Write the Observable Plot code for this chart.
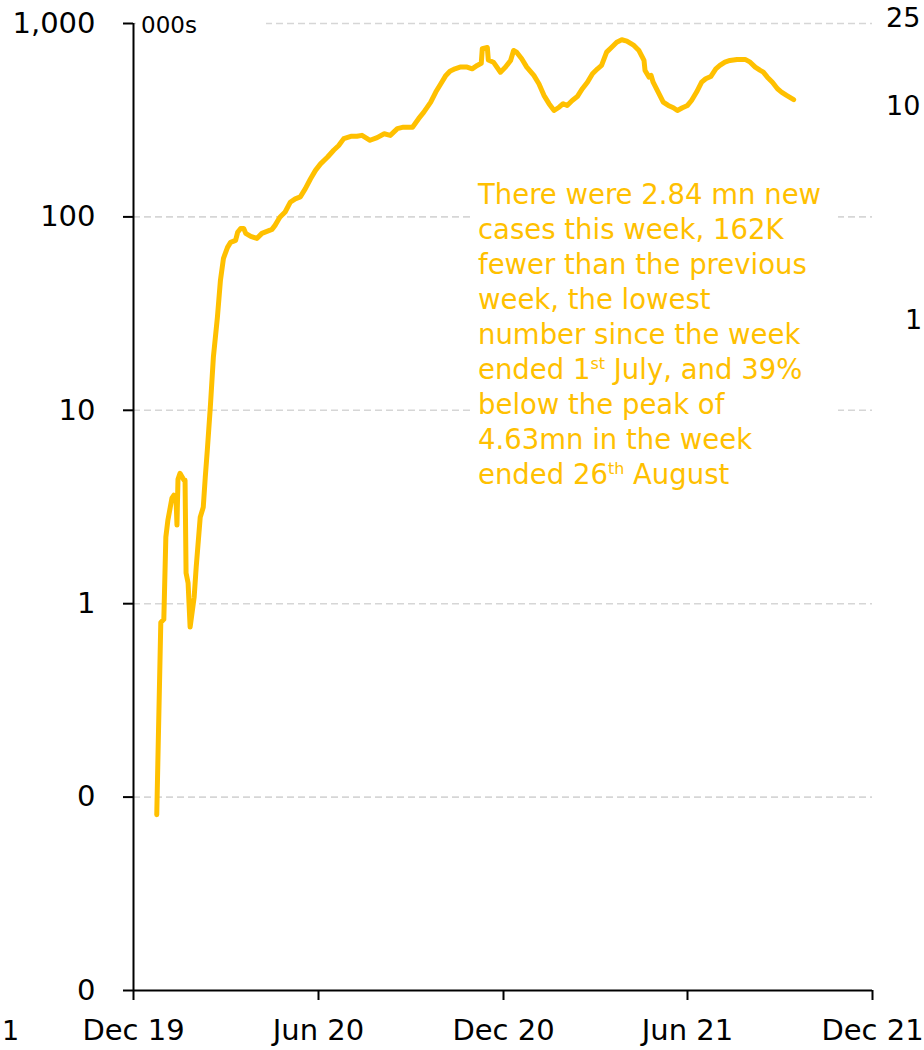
<!DOCTYPE html>
<html><head><meta charset="utf-8">
<script src="https://cdn.jsdelivr.net/npm/d3@7"></script>
<script src="https://cdn.jsdelivr.net/npm/@observablehq/plot@0.6"></script>
<style>
body{margin:0;background:#fff;overflow:hidden;}
#wrap{position:relative;width:924px;height:1050px;overflow:hidden;font-family:"DejaVu Sans",sans-serif;}
#wrap svg{position:absolute;left:0;top:0;}
.ov{position:absolute;white-space:nowrap;}
.note{color:#FFC000;font-size:27.5px;line-height:35px;background:#fff;}
.note sup{font-size:0.58em;vertical-align:0.62em;line-height:0;}
.edge{color:#000;font-size:27px;line-height:29px;}
</style></head><body><div id="wrap"></div>
<script>
// 7-day average of daily new cases, thousands
const dates = ["2019-12-24","2019-12-28","2019-12-31","2020-01-02","2020-01-04","2020-01-08","2020-01-10","2020-01-12","2020-01-13","2020-01-14","2020-01-16","2020-01-20","2020-01-21","2020-01-22","2020-01-24","2020-01-26","2020-01-30","2020-02-01","2020-02-05","2020-02-08","2020-02-10","2020-02-12","2020-02-15","2020-02-18","2020-02-22","2020-02-25","2020-02-28","2020-03-03","2020-03-06","2020-03-11","2020-03-13","2020-03-16","2020-03-19","2020-03-21","2020-03-26","2020-04-01","2020-04-06","2020-04-11","2020-04-16","2020-04-19","2020-04-23","2020-04-24","2020-04-29","2020-05-04","2020-05-09","2020-05-14","2020-05-19","2020-05-24","2020-05-29","2020-06-03","2020-06-10","2020-06-16","2020-06-21","2020-06-26","2020-07-03","2020-07-09","2020-07-14","2020-07-22","2020-07-29","2020-08-05","2020-08-11","2020-08-18","2020-08-24","2020-09-02","2020-09-08","2020-09-13","2020-09-20","2020-09-25","2020-09-30","2020-10-05","2020-10-09","2020-10-14","2020-10-19","2020-10-26","2020-10-31","2020-11-05","2020-11-09","2020-11-10","2020-11-15","2020-11-16","2020-11-21","2020-11-28","2020-12-03","2020-12-08","2020-12-11","2020-12-14","2020-12-19","2020-12-24","2020-12-31","2021-01-05","2021-01-10","2021-01-15","2021-01-20","2021-01-25","2021-01-29","2021-02-02","2021-02-07","2021-02-12","2021-02-17","2021-02-22","2021-02-27","2021-03-04","2021-03-08","2021-03-13","2021-03-18","2021-03-23","2021-03-28","2021-04-02","2021-04-09","2021-04-14","2021-04-19","2021-04-20","2021-04-24","2021-04-26","2021-04-28","2021-05-03","2021-05-08","2021-05-13","2021-05-18","2021-05-22","2021-05-27","2021-06-01","2021-06-05","2021-06-10","2021-06-15","2021-06-19","2021-06-24","2021-06-29","2021-07-03","2021-07-08","2021-07-13","2021-07-20","2021-07-28","2021-08-02","2021-08-07","2021-08-12","2021-08-15","2021-08-19","2021-08-24","2021-08-29","2021-09-02","2021-09-07","2021-09-14"];
const cases = [0.081,0.80,0.83,2.21,2.70,3.51,3.64,3.6,2.55,4.4,4.72,4.35,4.35,1.44,1.28,0.757,1.08,1.54,2.80,3.15,4.51,6.21,10.4,18.8,30.3,47.0,61.1,69.6,73.8,75.6,83.2,87.2,87.2,82.2,79.3,77.4,82.2,84.2,86.2,90.4,98.2,99.8,106,119,124,127,140,157,174,188,204,221,234,254,261,261,264,249,257,269,264,286,291,291,322,347,392,442,488,539,567,583,595,595,583,607,623,740,751,648,631,560,595,644,725,711,657,595,539,488,425,385,355,369,385,377,400,419,460,497,550,583,607,711,754,800,824,810,770,725,644,572,528,539,497,442,392,377,367,355,367,377,400,442,497,518,532,583,607,631,644,652,652,631,595,572,560,528,497,460,442,425,404];

const yTickValues = [1000, 100, 10, 1, 0.1, 0.01];
const yTickLabels = ["1,000", "100", "10", "1", "0", "0"];
const gridValues = [1000, 100, 10, 1, 0.1];
const xTickDates = ["2019-12-01", "2020-06-01", "2020-12-01", "2021-06-01", "2021-12-01"];
const xTickLabels = ["Dec 19", "Jun 20", "Dec 20", "Jun 21", "Dec 21"];
const unitLabel = "000s";
const noteLines = ["There were 2.84 mn new", "cases this week, 162K", "fewer than the previous", "week, the lowest", "number since the week", "ended 1<sup>st</sup> July, and 39%", "below the peak of", "4.63mn in the week", "ended 26<sup>th</sup> August"];
const edgeLabels = [["25", 886, 3], ["10", 886, 91], ["1", 905, 305], ["1", 2, 1016]];

const X = dates.map(d => new Date(d + "T00:00:00Z"));
const xTicks = xTickDates.map(d => new Date(d + "T00:00:00Z"));

const chart = Plot.plot({
  width: 924, height: 1050,
  marginLeft: 133, marginRight: 52, marginTop: 23, marginBottom: 60,
  style: {fontFamily: "DejaVu Sans", fontSize: "29px", color: "#000", background: "transparent", overflow: "visible"},
  x: {type: "utc", domain: [xTicks[0], xTicks[xTicks.length - 1]], label: null},
  y: {type: "log", domain: [0.01, 1000], label: null},
  marks: [
    Plot.ruleY(gridValues, {stroke: "#d6d6d6", strokeWidth: 1.6, strokeDasharray: "7,4"}),
    Plot.axisY(yTickValues, {tickSize: 10, tickPadding: 28, stroke: "#000", strokeWidth: 2, fill: "#000", fontSize: 29,
      tickFormat: d => yTickLabels[yTickValues.indexOf(d)], label: null}),
    Plot.axisX(xTicks, {tickSize: 10, tickPadding: 19, stroke: "#000", strokeWidth: 2, fill: "#000", fontSize: 29,
      tickFormat: d => xTickLabels[xTicks.findIndex(t => +t === +d)], label: null}),
    Plot.ruleX([xTicks[0]], {stroke: "#000", strokeWidth: 2}),
    Plot.ruleY([0.01], {stroke: "#000", strokeWidth: 2}),
    Plot.lineY(cases, {x: X, y: cases, stroke: "#FFC000", strokeWidth: 5, strokeLinejoin: "round", strokeLinecap: "round"})
  ]
});

const wrap = document.getElementById("wrap");
wrap.appendChild(chart);

const unit = document.createElement("div");
unit.className = "ov";
unit.style.cssText = "left:136px;top:13px;width:125px;padding-left:5px;background:#fff;font-size:23px;line-height:24px;color:#000;";
unit.textContent = unitLabel;
wrap.appendChild(unit);

const note = document.createElement("div");
note.className = "ov note";
note.style.cssText = "left:470px;top:174px;width:352px;padding:3px 8px 8px 8px;";
note.innerHTML = noteLines.join("<br>");
wrap.appendChild(note);

for (const [t, l, tp] of edgeLabels) {
  const e = document.createElement("div");
  e.className = "ov edge";
  e.style.left = l + "px"; e.style.top = tp + "px";
  e.textContent = t;
  wrap.appendChild(e);
}
</script></body></html>
